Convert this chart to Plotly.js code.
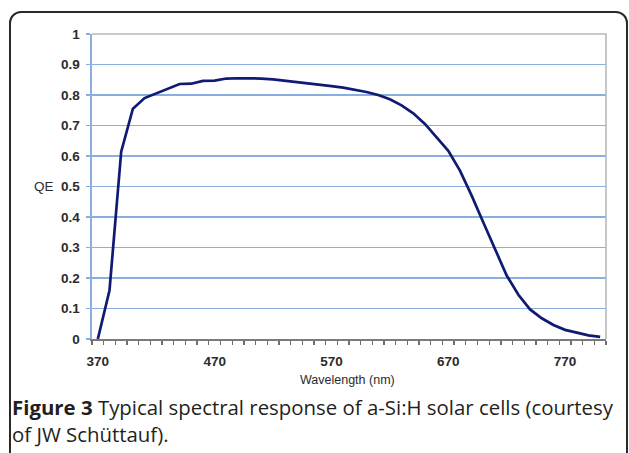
<!DOCTYPE html>
<html>
<head>
<meta charset="utf-8">
<script src="https://cdn.plot.ly/plotly-3.0.1.min.js"></script>
<style>
  html, body { margin: 0; padding: 0; background: #ffffff; overflow: hidden; }
  #frame { position: absolute; left: 9px; top: 11px; width: 619px; height: 470px;
           border: 2px solid #2a2a2a; border-radius: 12px; box-sizing: border-box; }
  #chart { position: absolute; left: 0; top: 0; width: 629px; height: 453px; }
</style>
</head>
<body>
<div id="frame"></div>
<div id="chart"></div>
<script>
// Wavelength (nm) and quantum efficiency values
const wavelength = [370,380,390,400,410,420,430,440,450,460,470,480,490,500,510,520,530,540,550,560,
                    570,580,590,600,610,620,630,640,650,660,670,680,690,700,710,720,730,740,750,760,
                    770,780,790,800];
const qe = [0.000,0.160,0.614,0.755,0.790,0.806,0.822,0.836,0.837,0.846,0.847,0.854,0.855,0.855,0.854,0.851,0.847,0.843,0.838,0.833,
            0.829,0.824,0.818,0.810,0.800,0.786,0.766,0.740,0.705,0.662,0.617,0.552,0.470,0.382,0.292,0.208,0.145,0.097,0.068,0.046,
            0.030,0.020,0.012,0.007];
const xTickVals = [370,470,570,670,770];
const xTickText = ['370','470','570','670','770'];
const xMinorTicks = [];
for (let i = 0; i <= wavelength.length; i++) xMinorTicks.push(wavelength[0] - 5 + 10 * i);
const yTickVals = [0,0.1,0.2,0.3,0.4,0.5,0.6,0.7,0.8,0.9,1];
const yTickText = ['0','0.1','0.2','0.3','0.4','0.5','0.6','0.7','0.8','0.9','1'];

const gridBlue = '#8aaede';
const tickFont = {family: 'Liberation Sans, Arial, sans-serif', size: 13.5, color: '#2b2b2b', weight: 'bold'};
const capFont = {family: 'Open Sans, Noto Sans, sans-serif', size: 20.4, color: '#231f20'};

const trace = {
  x: wavelength, y: qe, type: 'scatter', mode: 'lines',
  line: {color: '#111a73', width: 2.7},
  hoverinfo: 'skip'
};

const layout = {
  width: 629, height: 453,
  margin: {l: 92, r: 23, t: 34, b: 114},
  paper_bgcolor: 'rgba(0,0,0,0)', plot_bgcolor: 'rgba(0,0,0,0)',
  showlegend: false,
  xaxis: {
    range: [365, 805], fixedrange: true,
    tickmode: 'array', tickvals: xTickVals, ticktext: xTickText,
    ticks: 'outside', ticklen: 9, tickcolor: 'rgba(0,0,0,0)',
    minor: {tickmode: 'array', tickvals: xMinorTicks, ticks: 'outside', ticklen: 4, tickcolor: '#6e6e6e', tickwidth: 1.3, showgrid: false},
    showgrid: false, zeroline: false,
    showline: true, linecolor: '#7a7a7a', linewidth: 1.6,
    tickfont: tickFont
  },
  yaxis: {
    range: [0, 1], fixedrange: true,
    tickmode: 'array', tickvals: yTickVals, ticktext: yTickText,
    ticks: 'outside', ticklen: 4, tickcolor: gridBlue, tickwidth: 1.4,
    ticklabelstandoff: 4,
    showgrid: true, gridcolor: gridBlue, gridwidth: 1.6,
    zeroline: false,
    showline: true, linecolor: gridBlue, linewidth: 1.6,
    tickfont: tickFont
  },
  shapes: [
    {type: 'path', xref: 'paper', yref: 'paper', path: 'M0,1 L1,1 L1,0',
     line: {color: '#b9b9b9', width: 1.6}, layer: 'above'}
  ],
  annotations: [
    {text: 'QE', xref: 'paper', yref: 'paper', x: -0.0934, y: 0.5, xanchor: 'center', yanchor: 'middle',
     showarrow: false, font: {family: 'Liberation Sans, Arial, sans-serif', size: 13.5, color: '#2b2b2b'}},
    {text: 'Wavelength (nm)', xref: 'paper', yref: 'paper', x: 0.498, y: -0.133, xanchor: 'center', yanchor: 'middle',
     showarrow: false, font: {family: 'Liberation Sans, Arial, sans-serif', size: 12.5, color: '#2b2b2b'}},
    {text: '<b>Figure 3</b> Typical spectral response of a-Si:H solar cells (courtesy', xref: 'paper', yref: 'paper',
     x: -0.1595, y: -0.222, xanchor: 'left', yanchor: 'middle', showarrow: false, font: capFont},
    {text: 'of JW Schüttauf).', xref: 'paper', yref: 'paper',
     x: -0.1595, y: -0.311, xanchor: 'left', yanchor: 'middle', showarrow: false, font: capFont}
  ]
};

Plotly.newPlot('chart', [trace], layout, {staticPlot: true, displayModeBar: false});
</script>
</body>
</html>
